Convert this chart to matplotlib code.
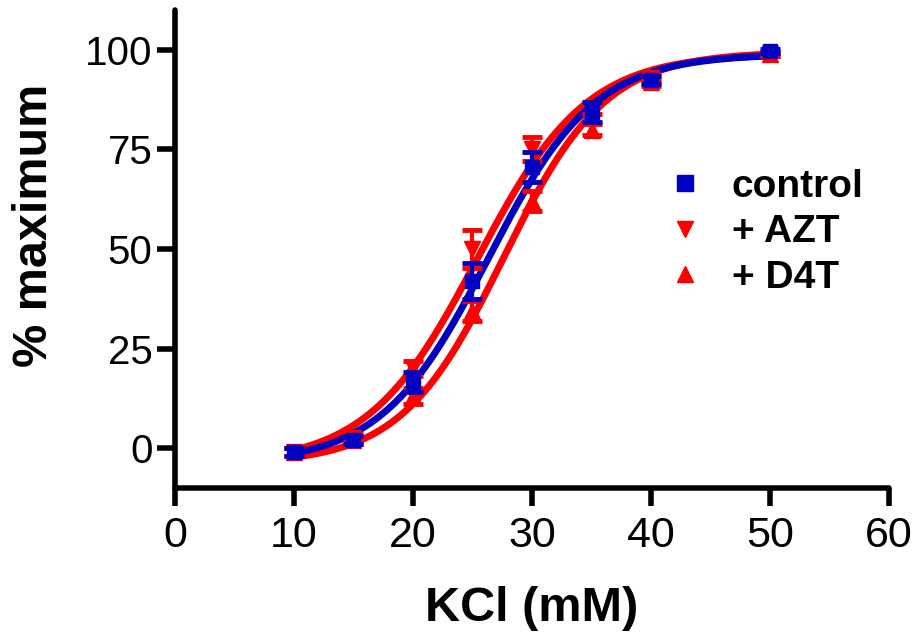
import numpy as np
import matplotlib
matplotlib.use("Agg")
import matplotlib.pyplot as plt

plt.rcParams['font.family'] = ['Liberation Sans', 'DejaVu Sans']

kcl = [10, 15, 20, 25, 30, 35, 40, 50]
control = [-1.0, 2.0, 16.5, 42.0, 70.5, 84.5, 92.5, 99.8]
control_err = [1.0, 1.0, 2.5, 4.5, 3.8, 2.5, 1.0, 0.5]
azt = [-1.0, 2.5, 20.0, 50.0, 75.0, 85.5, 93.0, 99.0]
azt_err = [1.0, 1.0, 2.0, 4.8, 3.0, 1.5, 1.0, 0.5]
d4t = [-1.0, 2.0, 13.0, 34.5, 62.0, 80.0, 92.0, 99.0]
d4t_err = [1.0, 1.0, 2.0, 2.5, 2.5, 1.5, 1.0, 0.5]

# Boltzmann fit parameters: bottom, top, V50, slope
fit_control = [-4.0, 99.0, 26.3, 4.5]
fit_azt = [-4.0, 99.0, 25.4, 4.6]
fit_d4t = [-4.0, 99.5, 27.6, 4.3]

labels = ["control", "+ AZT", "+ D4T"]
blue = "#0000c0"
red = "#ff0000"

def boltz(x, p):
    b, t, v, s = p
    return b + (t - b) / (1 + np.exp((v - x) / s))

fig = plt.figure(figsize=(9.17, 6.42), dpi=100)
ax = fig.add_axes([0.1908, 0.2399, 0.7787, 0.7445])

xs = np.linspace(10, 50, 300)
ax.plot(xs, boltz(xs, fit_d4t), color=red, lw=5, zorder=2)
ax.plot(xs, boltz(xs, fit_azt), color=red, lw=5, zorder=2)
ax.plot(xs, boltz(xs, fit_control), color=blue, lw=5, zorder=3)

ax.errorbar(kcl, d4t, yerr=d4t_err, fmt='^', color=red, ms=11, capsize=7,
            elinewidth=3, capthick=3.5, zorder=4, label=labels[2])
ax.errorbar(kcl, azt, yerr=azt_err, fmt='v', color=red, ms=11, capsize=7,
            elinewidth=3, capthick=3.5, zorder=4, label=labels[1])
ax.errorbar(kcl, control, yerr=control_err, fmt='s', color=blue, ms=10.5, capsize=7,
            elinewidth=3, capthick=3.5, zorder=5, label=labels[0])

ax.set_xlim(0, 60)
ax.set_ylim(-10, 110)
ax.set_xticks([0, 10, 20, 30, 40, 50, 60])
ax.set_yticks([0, 25, 50, 75, 100])
for s in ['top', 'right']:
    ax.spines[s].set_visible(False)
for s in ['left', 'bottom']:
    ax.spines[s].set_linewidth(4)
    ax.spines[s].set_capstyle('round')
ax.tick_params(width=4, length=13)
ax.tick_params(axis='y', labelsize=29, pad=3)
ax.tick_params(axis='x', labelsize=31, pad=7)
ax.set_xlabel("KCl (mM)", fontsize=35, fontweight='bold', labelpad=22)
ax.set_ylabel("% maximum", fontsize=35, fontweight='bold', labelpad=12)
ax.yaxis.set_label_coords(-0.165, 0.55)

h, l = ax.get_legend_handles_labels()
order = [2, 1, 0]
hh = [h[i][0] for i in order]
leg = fig.legend(hh, [l[i] for i in order], loc='upper left',
                 bbox_to_anchor=(0.7257, 0.737), frameon=False,
                 prop={'size': 28, 'weight': 'bold'}, handletextpad=0.7,
                 labelspacing=0.24, markerscale=1.05, handlelength=1.0,
                 borderpad=0, borderaxespad=0)

fig.savefig("out.png", dpi=100)
